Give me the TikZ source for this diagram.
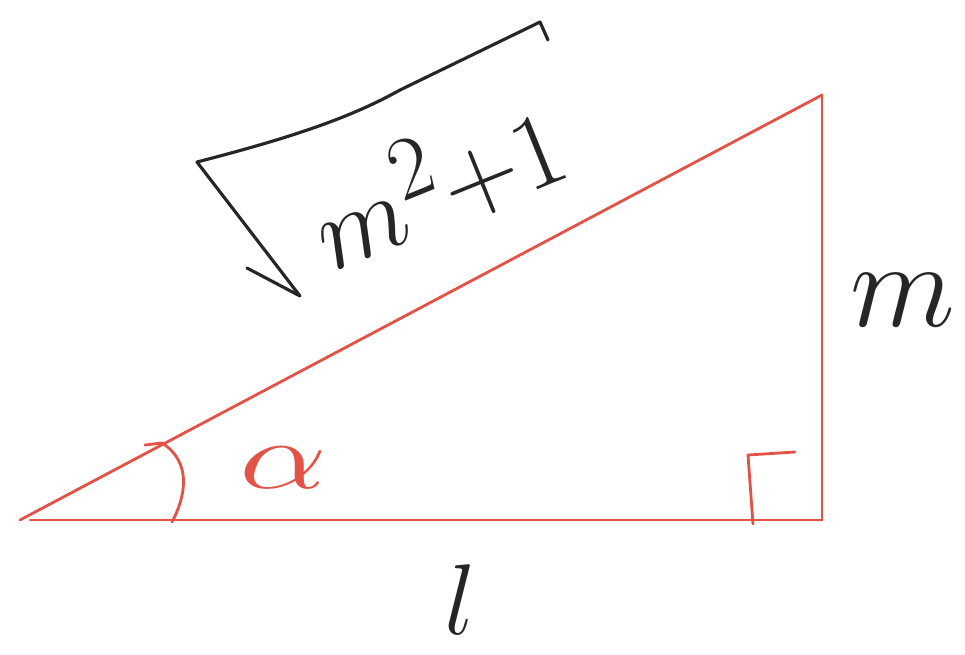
\documentclass[tikz,border=0pt]{standalone}
\usepackage{amsmath}
\usepackage{tikz}
\usetikzlibrary{positioning,calc}

\definecolor{pen}{RGB}{226,82,70}
\definecolor{ink}{RGB}{38,38,38}

\begin{document}
\begin{tikzpicture}[x=0.02cm, y=-0.02cm,
  side/.style={draw=pen, line width=1.6pt, line cap=round, line join=round},
  hand/.style={draw=ink, line width=1.8pt, line cap=round, line join=round},
  lbl/.style={inner sep=0pt, text=ink, font=\Huge}
]
  \useasboundingbox (0,0) rectangle (965,654);

  % Triangle corners
  \coordinate (A) at (20,520);
  \coordinate (B) at (822,520);
  \coordinate (C) at (822,95);

  % Sides
  \draw[side] (A) -- (C);
  \draw[side] (B) -- (C);
  \draw[side] (30,520) -- (B);

  % Angle mark and right angle
  \draw[side] (145,445) -- (162,443) .. controls (192,462) and (186,496) .. (172,522);
  \draw[side] (753,524) -- (748,455) -- (795,452);

  % Radical sign
  \draw[hand] (247,268) -- (300,296) -- (197,162)
    .. controls (290,138) and (350,118) .. (400,90) -- (540,22) -- (548,40);

  % Labels
  \node[lbl, rotate=22, scale=2.45] (root) at (436,182) {$m^2{+}1$};
  \node[lbl, scale=2.8] (mside) at (903,300) {$m$};
  \node[lbl, scale=2.3] (lside) at (460,600) {$l$};
  \node[lbl, text=pen, xscale=3.2, yscale=2.2] (alpha) at (284,468) {$\alpha$};
\end{tikzpicture}
\end{document}
